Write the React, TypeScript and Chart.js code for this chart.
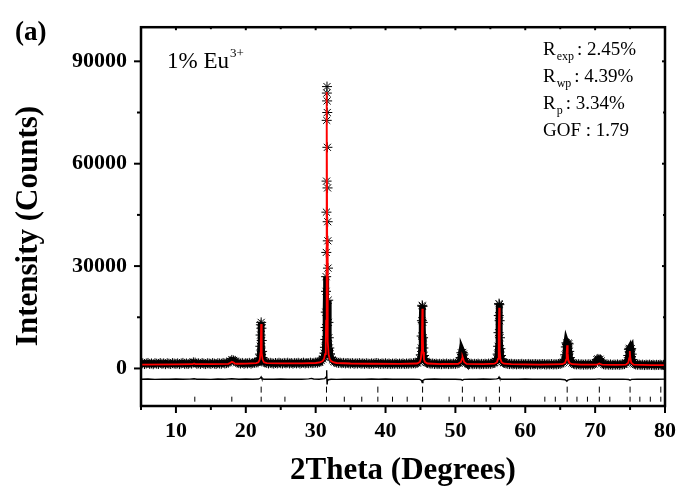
import React, { useEffect, useRef } from 'react';
import { Chart, registerables } from 'chart.js';

Chart.register(...registerables);

const SERIF = '"Liberation Serif", "Times New Roman", Times, serif';

// ---- axis ranges and ticks ----
const xRange = [5, 80];
const yRange = [-11000, 100000];
const xMajorTicks = [10, 20, 30, 40, 50, 60, 70, 80];
const xMinorTicks = [5, 15, 25, 35, 45, 55, 65, 75];
const yMajorTicks = [0, 30000, 60000, 90000];
const yMinorTicks = [15000, 45000, 75000];

// ---- observed intensity (2θ, counts) ----
const observed: [number, number][] = [
  [5.0, 1380], [5.25, 1520], [5.5, 1290], [5.75, 1450], [6.0, 1610], [6.25, 1330], [6.5, 1470], [6.75, 1250],
  [7.0, 1540], [7.25, 1400], [7.5, 1320], [7.75, 1580], [8.0, 1360], [8.25, 1490], [8.5, 1270], [8.75, 1530],
  [9.0, 1410], [9.25, 1300], [9.5, 1560], [9.75, 1440], [10.0, 1350], [10.25, 1500], [10.5, 1280], [10.75, 1470],
  [11.0, 1620], [11.25, 1340], [11.5, 1450], [11.75, 1310], [12.0, 1550], [12.25, 1420], [12.5, 1780], [12.75, 1700],
  [13.0, 1380], [13.25, 1500], [13.5, 1330], [13.75, 1590], [14.0, 1410], [14.25, 1290], [14.5, 1520], [14.75, 1460],
  [15.0, 1350], [15.25, 1570], [15.5, 1420], [15.75, 1310], [16.0, 1540], [16.25, 1460], [16.5, 1380], [16.75, 1610],
  [17.0, 1450], [17.25, 1560], [17.5, 1690], [17.75, 2150], [18.0, 2500], [18.25, 2350], [18.5, 2150], [18.75, 1720],
  [19.0, 1580], [19.25, 1450], [19.5, 1620], [19.75, 1380], [20.0, 1550], [20.25, 1470], [20.5, 1640], [20.75, 1400],
  [21.0, 1580], [21.25, 1690], [21.5, 1760],
  [21.75, 1800], [21.85, 2200], [21.95, 2900], [22.03, 4200], [22.08, 6500], [22.12, 9800], [22.16, 12800],
  [22.2, 13500], [22.24, 11800], [22.28, 8200], [22.33, 5000], [22.4, 3200], [22.5, 2300], [22.62, 1900],
  [22.75, 1750], [23.0, 1620], [23.25, 1480], [23.5, 1650], [23.75, 1530], [24.0, 1420], [24.25, 1600], [24.5, 1490],
  [24.75, 1660], [25.0, 1540], [25.25, 1450], [25.5, 1620], [25.75, 1510], [26.0, 1680], [26.25, 1470], [26.5, 1590],
  [26.75, 1430], [27.0, 1610], [27.25, 1500], [27.5, 1650], [27.75, 1440], [28.0, 1570], [28.25, 1690], [28.5, 1480],
  [28.75, 1600], [29.0, 1530], [29.25, 1700], [29.5, 1560], [29.75, 1640], [30.0, 1720], [30.25, 1680], [30.5, 1850],
  [30.6, 2000], [30.8, 2300], [31.0, 2800], [31.15, 3500], [31.25, 4500], [31.33, 6200], [31.38, 8500], [31.42, 12000],
  [31.45, 16500], [31.48, 22600], [31.5, 26900], [31.52, 34000], [31.54, 45800], [31.56, 54900], [31.58, 72700],
  [31.6, 80700], [31.62, 82600], [31.64, 78400], [31.66, 75000], [31.68, 64800], [31.7, 52900], [31.72, 43000],
  [31.74, 37400], [31.76, 29400], [31.79, 20000], [31.83, 13500], [31.88, 9000], [31.95, 6000], [32.05, 4300],
  [32.2, 3200], [32.4, 2500], [32.6, 2100],
  [32.75, 1900], [33.0, 1750], [33.25, 1620], [33.5, 1700], [33.75, 1540], [34.0, 1630], [34.25, 1480], [34.5, 1600],
  [34.75, 1520], [35.0, 1450], [35.25, 1580], [35.5, 1390], [35.75, 1510], [36.0, 1440], [36.25, 1570], [36.5, 1400],
  [36.75, 1490], [37.0, 1360], [37.25, 1530], [37.5, 1420], [37.75, 1350], [38.0, 1480], [38.25, 1390], [38.5, 1520],
  [38.75, 1600], [39.0, 1450], [39.25, 1330], [39.5, 1470], [39.75, 1380], [40.0, 1510], [40.25, 1340], [40.5, 1450],
  [40.75, 1300], [41.0, 1430], [41.25, 1360], [41.5, 1490], [41.75, 1320], [42.0, 1420], [42.25, 1350], [42.5, 1470],
  [42.75, 1310], [43.0, 1440], [43.25, 1380], [43.5, 1500], [43.75, 1420], [44.0, 1540], [44.25, 1480], [44.5, 1620],
  [44.62, 1800], [44.8, 2100], [44.95, 2800], [45.05, 4000], [45.12, 6000], [45.17, 9500], [45.21, 14000],
  [45.25, 18500], [45.29, 18200], [45.33, 13500], [45.37, 9000], [45.42, 6000], [45.5, 3800], [45.6, 2700],
  [45.75, 2000], [45.88, 1750],
  [46.0, 1640], [46.25, 1500], [46.5, 1380], [46.75, 1450], [47.0, 1320], [47.25, 1410], [47.5, 1290], [47.75, 1380],
  [48.0, 1260], [48.25, 1400], [48.5, 1310], [48.75, 1430], [49.0, 1280], [49.25, 1370], [49.5, 1300], [49.75, 1420],
  [50.0, 1350], [50.25, 1480], [50.5, 1560],
  [50.62, 2000], [50.75, 3200], [50.85, 4600], [50.95, 4000], [51.05, 4700], [51.15, 4200], [51.25, 2900], [51.38, 1900],
  [51.5, 1650], [51.75, 1420], [52.0, 1300], [52.25, 1390], [52.5, 1250], [52.75, 1360], [53.0, 1280], [53.25, 1400],
  [53.5, 1230], [53.75, 1340], [54.0, 1270], [54.25, 1380], [54.5, 1300], [54.75, 1420], [55.0, 1350], [55.25, 1460],
  [55.5, 1580],
  [55.62, 1750], [55.8, 2100], [55.95, 2900], [56.05, 4200], [56.12, 6500], [56.17, 10500], [56.21, 15500],
  [56.25, 19000], [56.29, 18700], [56.33, 14000], [56.38, 9000], [56.44, 5800], [56.52, 3800], [56.62, 2700],
  [56.76, 2000], [56.88, 1750],
  [57.0, 1650], [57.25, 1480], [57.5, 1350], [57.75, 1280], [58.0, 1370], [58.25, 1230], [58.5, 1320], [58.75, 1200],
  [59.0, 1300], [59.25, 1240], [59.5, 1350], [59.75, 1190], [60.0, 1290], [60.25, 1220], [60.5, 1330], [60.75, 1180],
  [61.0, 1270], [61.25, 1210], [61.5, 1310], [61.75, 1160], [62.0, 1260], [62.25, 1200], [62.5, 1300], [62.75, 1230],
  [63.0, 1150], [63.25, 1260], [63.5, 1190], [63.75, 1280], [64.0, 1170], [64.25, 1250], [64.5, 1200], [64.75, 1310],
  [65.0, 1380], [65.25, 1520],
  [65.45, 1800], [65.6, 2500], [65.72, 4000], [65.81, 6300], [65.89, 7500], [65.97, 7000], [66.05, 6600],
  [66.13, 7400], [66.21, 7200], [66.29, 5000], [66.38, 3200], [66.52, 2100], [66.7, 1600],
  [66.9, 1420], [67.1, 1250], [67.35, 1180], [67.6, 1260], [67.85, 1140], [68.1, 1220], [68.35, 1100], [68.6, 1200],
  [68.85, 1130], [69.1, 1240], [69.35, 1120], [69.6, 1210], [69.85, 1300],
  [70.1, 1700], [70.25, 2600], [70.4, 2800], [70.55, 2400], [70.7, 2700], [70.85, 2200], [71.0, 1500],
  [71.2, 1250], [71.45, 1120], [71.7, 1200], [71.95, 1080], [72.2, 1170], [72.45, 1050], [72.7, 1150], [72.95, 1090],
  [73.2, 1180], [73.45, 1060], [73.7, 1140], [73.95, 1210], [74.2, 1280],
  [74.45, 1600], [74.62, 2300], [74.74, 3800], [74.84, 5600], [74.92, 5900], [75.0, 5000], [75.08, 5500],
  [75.16, 5800], [75.24, 4200], [75.34, 2600], [75.46, 1700], [75.6, 1350],
  [75.8, 1180], [76.05, 1090], [76.3, 1150], [76.55, 1030], [76.8, 1120], [77.05, 1000], [77.3, 1100], [77.55, 1040],
  [77.8, 1130], [78.05, 1010], [78.3, 1090], [78.55, 980], [78.8, 1070], [79.05, 1020], [79.3, 1110], [79.55, 990],
  [79.8, 1060], [80.0, 1020],
];

// ---- calculated profile (2θ, counts) ----
const calculated: [number, number][] = [
  [5, 1150], [10, 1200], [12.4, 1250], [12.6, 1450], [12.8, 1250], [15, 1280], [17.5, 1350], [17.8, 1700],
  [18.0, 1950], [18.2, 1800], [18.4, 1500], [18.7, 1380], [20, 1400], [21.5, 1550], [21.8, 1800], [22.0, 2600],
  [22.1, 4500], [22.15, 8000], [22.2, 13000], [22.25, 8000], [22.3, 4500], [22.4, 2600], [22.6, 1800], [23, 1550],
  [25, 1480], [28, 1500], [30, 1600], [30.6, 1750], [31.0, 2200], [31.2, 2800], [31.35, 4200], [31.45, 8000],
  [31.5, 14000], [31.55, 38000], [31.6, 81000], [31.65, 38000], [31.7, 14000], [31.75, 8000], [31.85, 4200],
  [32.0, 2800], [32.2, 2200], [32.6, 1750], [33, 1600], [35, 1450], [38, 1380], [42, 1330], [44.5, 1450],
  [44.9, 1850], [45.05, 2700], [45.15, 4800], [45.21, 10000], [45.27, 17500], [45.33, 10000], [45.39, 4800],
  [45.5, 2700], [45.65, 1850], [46, 1450], [48, 1300], [50.4, 1350], [50.8, 1900], [50.95, 2900], [51.02, 3400],
  [51.1, 2900], [51.25, 1900], [51.6, 1350], [54, 1250], [55.6, 1400], [55.95, 1850], [56.1, 2800], [56.18, 5000],
  [56.22, 10500], [56.27, 17800], [56.32, 10500], [56.36, 5000], [56.45, 2800], [56.6, 1850], [56.95, 1400],
  [58, 1250], [62, 1150], [65.3, 1250], [65.7, 1650], [65.85, 2600], [65.93, 4500], [66.0, 6800], [66.07, 4500],
  [66.15, 2600], [66.3, 1650], [66.7, 1250], [68, 1100], [70.2, 1100], [70.45, 1300], [70.6, 1450], [70.75, 1300],
  [71.0, 1100], [73, 1050], [74.4, 1100], [74.75, 1700], [74.88, 3000], [74.96, 5100], [75.04, 3000], [75.17, 1700],
  [75.5, 1100], [78, 1000], [80, 980],
];

// ---- difference curve (obs - calc, offset) ----
const difference: [number, number][] = [
  [5, -3150], [6, -3100], [7, -3200], [8, -3120], [9, -3180], [10, -3100], [11, -3170], [12, -3130], [12.6, -3000],
  [13, -3150], [14, -3120], [15, -3190], [16, -3110], [17, -3160], [18, -3000], [19, -3150], [20, -3100], [21, -3170],
  [21.8, -3100], [22.1, -2800], [22.2, -2500], [22.3, -3000], [22.6, -3150], [23, -3120], [24, -3180], [25, -3100],
  [26, -3160], [27, -3120], [28, -3180], [29, -3050], [29.4, -2900], [29.7, -3100], [30.5, -3150], [31.3, -3000],
  [31.5, -2500], [31.56, -500], [31.6, -1000], [31.63, -4500], [31.66, -3800], [31.8, -3300], [32.2, -3150],
  [33, -3200], [34, -3120], [35, -3180], [36, -3120], [37, -3170], [38, -3100], [39, -3160], [40, -3110], [41, -3170],
  [42, -3120], [43, -3160], [44, -3120], [44.9, -3200], [45.15, -3500], [45.25, -4100], [45.35, -3500], [45.6, -3200],
  [46, -3150], [47, -3110], [48, -3170], [49, -3120], [50, -3160], [50.8, -3250], [51.0, -3450], [51.2, -3200],
  [52, -3130], [53, -3170], [54, -3110], [55, -3160], [55.9, -3050], [56.15, -2900], [56.25, -2500], [56.35, -2950],
  [56.6, -3150], [57, -3180], [58, -3120], [59, -3160], [60, -3100], [61, -3170], [62, -3120], [63, -3160], [64, -3120],
  [65, -3170], [65.7, -3300], [65.95, -3750], [66.1, -3400], [66.4, -3200], [67, -3140], [68, -3170], [69, -3120],
  [70, -3160], [70.6, -3050], [71, -3150], [72, -3120], [73, -3170], [74, -3120], [74.8, -3250], [75.0, -3450],
  [75.2, -3200], [76, -3140], [77, -3170], [78, -3120], [79, -3160], [80, -3130],
];

// ---- Bragg reflection positions (2θ) ----
const braggPhase1 = [22.2, 31.55, 38.9, 45.3, 51.0, 56.3, 66.0, 70.6, 75.0, 79.4];
const braggPhase2 = [
  12.7, 18.0, 22.2, 25.6, 31.55, 34.1, 36.6, 38.9, 41.0, 43.1, 45.3, 49.1, 51.0, 52.7, 54.4, 56.3, 57.9,
  62.8, 64.3, 66.0, 67.4, 68.9, 70.6, 72.1, 75.0, 76.4, 77.9, 79.4,
];
const braggLevel1 = -6200;
const braggLevel2 = -9000;

// ---- annotation texts ----
const panelLabel = '(a)';
const sampleLabel = '1% Eu';
const sampleSup = '3+';
const xTitle = '2Theta (Degrees)';
const yTitle = 'Intensity (Counts)';
const stats: { main: string; sub: string; value: string }[] = [
  { main: 'R', sub: 'exp', value: ': 2.45%' },
  { main: 'R', sub: 'wp', value: ': 4.39%' },
  { main: 'R', sub: 'p', value: ': 3.34%' },
  { main: 'GOF : 1.79', sub: '', value: '' },
];

const toPts = (arr: [number, number][]) => arr.map(([x, y]) => ({ x, y }));

const framePlugin = {
  id: 'frameAndText',
  afterDraw(chart: any) {
    const ctx = chart.ctx as CanvasRenderingContext2D;
    const { left, right, top, bottom } = chart.chartArea;
    const xs = chart.scales.x;
    const ys = chart.scales.y;
    ctx.save();
    ctx.strokeStyle = '#000';
    ctx.lineCap = 'butt';
    const line = (x1: number, y1: number, x2: number, y2: number) => {
      ctx.beginPath();
      ctx.moveTo(x1, y1);
      ctx.lineTo(x2, y2);
      ctx.stroke();
    };
    ctx.lineWidth = 2;
    xMajorTicks.forEach((v) => {
      const p = xs.getPixelForValue(v);
      line(p, bottom, p, bottom + 7);
      line(p, top, p, top + 3);
    });
    xMinorTicks.forEach((v) => {
      const p = xs.getPixelForValue(v);
      line(p, bottom, p, bottom + 4);
      line(p, top, p, top + 2);
    });
    yMajorTicks.forEach((v) => {
      const p = ys.getPixelForValue(v);
      line(left - 7, p, left, p);
      line(right - 3, p, right, p);
    });
    yMinorTicks.forEach((v) => {
      const p = ys.getPixelForValue(v);
      line(left - 4, p, left, p);
      line(right - 2, p, right, p);
    });
    ctx.lineWidth = 2.5;
    ctx.strokeRect(left, top, right - left, bottom - top);

    ctx.fillStyle = '#000';
    ctx.textBaseline = 'alphabetic';
    ctx.textAlign = 'left';
    // panel label
    ctx.font = `bold 27px ${SERIF}`;
    ctx.fillText(panelLabel, 15, 40);
    // sample label
    ctx.font = `23px ${SERIF}`;
    ctx.fillText(sampleLabel, 167, 68);
    const w = ctx.measureText(sampleLabel).width;
    ctx.font = `13px ${SERIF}`;
    ctx.fillText(sampleSup, 167 + w + 1, 57);
    // refinement statistics
    const baselines = [55, 82, 109, 136];
    stats.forEach((s, i) => {
      const y = baselines[i];
      let x = 543;
      ctx.font = `19px ${SERIF}`;
      ctx.fillText(s.main, x, y);
      x += ctx.measureText(s.main).width + 1;
      if (s.sub) {
        ctx.font = `12px ${SERIF}`;
        ctx.fillText(s.sub, x, y + 5);
        x += ctx.measureText(s.sub).width + 3;
        ctx.font = `19px ${SERIF}`;
        ctx.fillText(s.value, x, y);
      }
    });
    // axis titles
    ctx.font = `bold 31px ${SERIF}`;
    ctx.textAlign = 'center';
    ctx.fillText(xTitle, (left + right) / 2, 479);
    ctx.save();
    ctx.translate(37, 226);
    ctx.rotate(-Math.PI / 2);
    ctx.fillText(yTitle, 0, 0);
    ctx.restore();
    ctx.restore();
  },
};

export default function App() {
  const ref = useRef<HTMLCanvasElement | null>(null);
  useEffect(() => {
    if (!ref.current) return;
    const tickFont = { family: SERIF, size: 22, weight: 'bold' as const };
    const chart = new Chart(ref.current, {
      type: 'scatter',
      data: {
        datasets: [
          {
            label: 'Calculated',
            data: toPts(calculated),
            showLine: true,
            borderColor: '#ff0000',
            borderWidth: 1.8,
            pointRadius: 0,
            order: 0,
          },
          {
            label: 'Observed',
            data: toPts(observed),
            showLine: true,
            borderColor: '#000',
            borderWidth: 6,
            pointStyle: 'star',
            pointRadius: 5,
            pointBorderWidth: 1,
            pointBorderColor: '#000',
            pointBackgroundColor: '#000',
            segment: {
              borderColor: (c: any) =>
                Math.max(c.p0.parsed.y, c.p1.parsed.y) > 28000 ? 'rgba(0,0,0,0)' : '#000',
            },
            order: 1,
          } as any,
          {
            label: 'Difference',
            data: toPts(difference),
            showLine: true,
            borderColor: '#000',
            borderWidth: 1.4,
            pointRadius: 0,
            order: 2,
          },
          {
            label: 'Bragg 1',
            data: braggPhase1.map((x) => ({ x, y: braggLevel1 })),
            showLine: false,
            pointStyle: 'line',
            pointRotation: 90,
            pointRadius: 3,
            pointBorderWidth: 1,
            pointBorderColor: '#000',
            order: 3,
          },
          {
            label: 'Bragg 2',
            data: braggPhase2.map((x) => ({ x, y: braggLevel2 })),
            showLine: false,
            pointStyle: 'line',
            pointRotation: 90,
            pointRadius: 2.5,
            pointBorderWidth: 1,
            pointBorderColor: '#000',
            order: 3,
          },
        ],
      },
      options: {
        animation: false,
        responsive: false,
        devicePixelRatio: 1,
        events: [],
        layout: { padding: { top: 15, right: 17, left: 0, bottom: 0 } },
        plugins: { legend: { display: false }, tooltip: { enabled: false } },
        scales: {
          x: {
            type: 'linear',
            min: xRange[0],
            max: xRange[1],
            grid: { display: false, drawTicks: false },
            border: { display: false },
            afterBuildTicks: (s: any) => {
              s.ticks = xMajorTicks.map((v) => ({ value: v }));
            },
            afterFit: (s: any) => {
              s.height = 86;
            },
            ticks: {
              padding: 12,
              maxRotation: 0,
              autoSkip: false,
              color: '#000',
              font: tickFont,
              callback: (v: any) => String(v),
            },
          },
          y: {
            type: 'linear',
            min: yRange[0],
            max: yRange[1],
            grid: { display: false, drawTicks: false },
            border: { display: false },
            afterBuildTicks: (s: any) => {
              s.ticks = yMajorTicks.map((v) => ({ value: v }));
            },
            afterFit: (s: any) => {
              s.width = 141;
            },
            ticks: {
              padding: 14,
              autoSkip: false,
              color: '#000',
              font: tickFont,
              callback: (v: any) => String(v),
            },
          },
        },
      },
      plugins: [framePlugin],
    });
    return () => chart.destroy();
  }, []);
  return (
    <div style={{ position: 'absolute', left: 0, top: 0, width: 688, height: 492, background: '#fff' }}>
      <canvas ref={ref} width={688} height={492} style={{ display: 'block' }} />
    </div>
  );
}
